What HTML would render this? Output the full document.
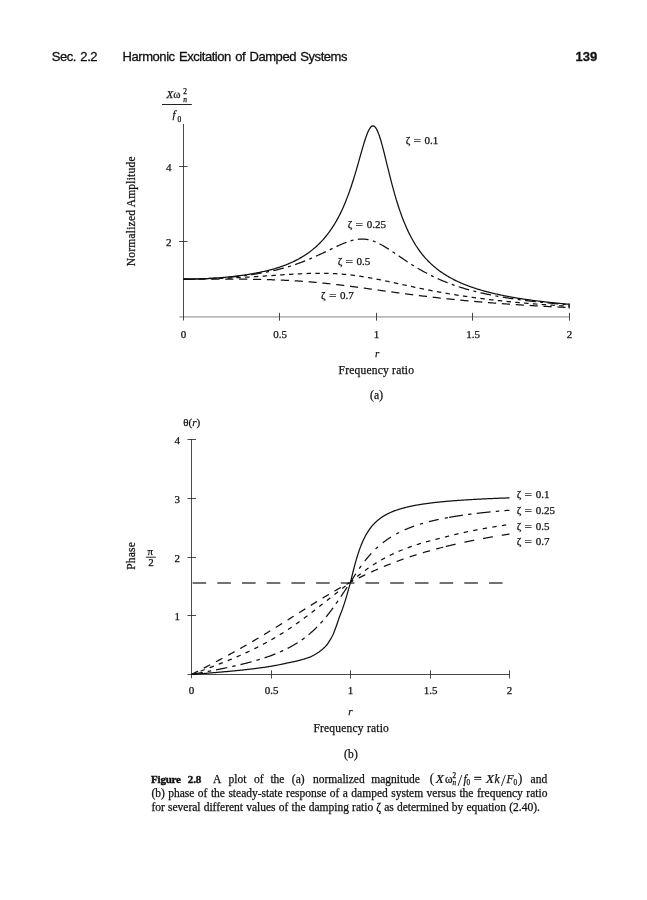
<!DOCTYPE html>
<html><head><meta charset="utf-8"><title>Figure 2.8</title>
<style>
html,body{margin:0;padding:0;background:#fff;}
body{width:647px;height:900px;position:relative;overflow:hidden;font-family:"Liberation Serif",serif;color:#111;}
.hd{position:absolute;top:48.7px;-webkit-text-stroke:0.3px #111;font-family:"Liberation Sans",sans-serif;font-size:13px;line-height:16px;white-space:nowrap;color:#111;letter-spacing:-0.45px;word-spacing:1.2px;}
.cap{position:absolute;left:151.4px;width:396.5px;font-size:11.5px;line-height:14px;-webkit-text-stroke:0.25px #111;white-space:nowrap;text-align:justify;text-align-last:justify;color:#111;}
svg{position:absolute;left:0;top:0;}
svg text{font-family:"Liberation Serif",serif;fill:#111;stroke:#111;stroke-width:0.25px;}
.cp{font-size:11.5px;} .t11{font-size:11px;} .t12{font-size:11.5px;letter-spacing:0.21px;}
.it{font-style:italic;}
.c{fill:none;stroke:#111;stroke-width:1.25;stroke-linejoin:round;}
.ax{stroke:#2a2a2a;stroke-width:0.85;fill:none;}
</style></head><body>
<div class="hd" style="left:51.8px;">Sec. 2.2</div>
<div class="hd" style="left:122.6px;">Harmonic Excitation of Damped Systems</div>
<div class="hd" style="left:575.6px;font-weight:bold;letter-spacing:0;">139</div>
<svg width="647" height="900" viewBox="0 0 647 900">

<line x1="179.2" y1="316.8" x2="569.5" y2="316.8" stroke="#b9b9b9" stroke-width="1.8"/>
<line class="ax" x1="183.5" y1="123.9" x2="183.5" y2="320.5"/>
<line class="ax" x1="179" y1="241.5" x2="187.7" y2="241.5"/>
<text class="t11" x="168.7" y="245.7" text-anchor="middle">2</text>
<line class="ax" x1="179" y1="166.5" x2="187.7" y2="166.5"/>
<text class="t11" x="168.7" y="170.7" text-anchor="middle">4</text>
<line class="ax" x1="279.5" y1="312.8" x2="279.5" y2="320.7"/>
<line class="ax" x1="376.5" y1="312.8" x2="376.5" y2="320.7"/>
<line class="ax" x1="472.5" y1="312.8" x2="472.5" y2="320.7"/>
<line class="ax" x1="569.5" y1="312.8" x2="569.5" y2="320.7"/>
<text class="t11" x="183.5" y="338" text-anchor="middle">0</text>
<text class="t11" x="280.0" y="338" text-anchor="middle">0.5</text>
<text class="t11" x="376.5" y="338" text-anchor="middle">1</text>
<text class="t11" x="473.0" y="338" text-anchor="middle">1.5</text>
<text class="t11" x="569.5" y="338" text-anchor="middle">2</text>
<path class="c" d="M183.50,279.10 L184.47,279.10 L185.43,279.10 L186.40,279.09 L187.36,279.09 L188.32,279.08 L189.29,279.07 L190.25,279.05 L191.22,279.04 L192.19,279.03 L193.15,279.01 L194.12,278.99 L195.08,278.97 L196.04,278.94 L197.01,278.92 L197.97,278.89 L198.94,278.86 L199.91,278.83 L200.87,278.80 L201.84,278.76 L202.80,278.73 L203.76,278.69 L204.73,278.65 L205.69,278.61 L206.66,278.56 L207.62,278.52 L208.59,278.47 L209.56,278.42 L210.52,278.36 L211.49,278.31 L212.45,278.25 L213.41,278.19 L214.38,278.13 L215.34,278.07 L216.31,278.00 L217.28,277.94 L218.24,277.87 L219.20,277.80 L220.17,277.72 L221.13,277.65 L222.10,277.57 L223.06,277.49 L224.03,277.40 L225.00,277.32 L225.96,277.23 L226.93,277.14 L227.89,277.05 L228.85,276.95 L229.82,276.85 L230.78,276.75 L231.75,276.65 L232.72,276.54 L233.68,276.44 L234.65,276.32 L235.61,276.21 L236.57,276.09 L237.54,275.98 L238.50,275.85 L239.47,275.73 L240.44,275.60 L241.40,275.47 L242.37,275.34 L243.33,275.20 L244.30,275.06 L245.26,274.91 L246.22,274.77 L247.19,274.62 L248.16,274.46 L249.12,274.31 L250.08,274.15 L251.05,273.98 L252.01,273.82 L252.98,273.65 L253.94,273.47 L254.91,273.29 L255.88,273.11 L256.84,272.92 L257.81,272.73 L258.77,272.54 L259.74,272.34 L260.70,272.14 L261.67,271.93 L262.63,271.72 L263.60,271.50 L264.56,271.28 L265.52,271.05 L266.49,270.82 L267.45,270.58 L268.42,270.34 L269.38,270.10 L270.35,269.84 L271.31,269.59 L272.28,269.32 L273.25,269.05 L274.21,268.78 L275.18,268.50 L276.14,268.21 L277.11,267.92 L278.07,267.62 L279.03,267.31 L280.00,267.00 L280.93,266.68 L281.87,266.35 L282.80,266.01 L283.73,265.67 L284.66,265.32 L285.60,264.96 L286.53,264.59 L287.46,264.22 L288.40,263.83 L289.33,263.44 L290.26,263.04 L291.20,262.62 L292.13,262.20 L293.06,261.77 L294.00,261.32 L294.93,260.87 L295.86,260.40 L296.79,259.93 L297.73,259.44 L298.66,258.94 L299.59,258.42 L300.53,257.90 L301.46,257.36 L302.39,256.80 L303.32,256.23 L304.26,255.65 L305.19,255.05 L306.12,254.43 L307.06,253.80 L307.99,253.15 L308.92,252.48 L309.86,251.80 L310.79,251.09 L311.72,250.37 L312.65,249.62 L313.59,248.85 L314.52,248.07 L315.45,247.25 L316.39,246.42 L317.32,245.55 L318.25,244.67 L319.19,243.75 L320.12,242.81 L321.05,241.84 L321.98,240.84 L322.92,239.80 L323.85,238.73 L324.78,237.63 L325.72,236.49 L326.65,235.32 L327.62,234.10 L328.58,232.85 L329.54,231.55 L330.51,230.21 L331.48,228.82 L332.44,227.38 L333.40,225.89 L334.37,224.35 L335.33,222.75 L336.30,221.10 L337.26,219.39 L338.23,217.61 L339.19,215.77 L340.16,213.86 L341.12,211.88 L342.09,209.83 L343.05,207.71 L344.02,205.50 L344.99,203.22 L345.95,200.85 L346.91,198.39 L347.88,195.85 L348.84,193.22 L349.81,190.50 L350.77,187.69 L351.74,184.79 L352.70,181.81 L353.67,178.74 L354.63,175.58 L355.60,172.36 L356.56,169.06 L357.53,165.71 L358.50,162.32 L359.46,158.90 L360.42,155.47 L361.39,152.07 L362.36,148.70 L363.32,145.42 L364.28,142.25 L365.25,139.23 L366.21,136.41 L367.18,133.83 L368.14,131.54 L369.11,129.59 L370.07,128.01 L371.04,126.84 L372.00,126.12 L372.97,125.86 L373.93,126.09 L374.90,126.80 L375.86,127.99 L376.83,129.62 L377.79,131.69 L378.76,134.14 L379.72,136.94 L380.69,140.04 L381.65,143.39 L382.62,146.95 L383.58,150.66 L384.55,154.49 L385.51,158.39 L386.48,162.33 L387.44,166.28 L388.41,170.21 L389.38,174.10 L390.34,177.93 L391.30,181.69 L392.27,185.36 L393.24,188.94 L394.20,192.42 L395.16,195.80 L396.13,199.07 L397.09,202.23 L398.06,205.29 L399.02,208.24 L399.99,211.08 L400.95,213.82 L401.92,216.46 L402.88,219.01 L403.85,221.46 L404.81,223.82 L405.78,226.09 L406.75,228.28 L407.71,230.38 L408.67,232.41 L409.64,234.37 L410.61,236.25 L411.57,238.07 L412.53,239.82 L413.50,241.51 L414.47,243.14 L415.43,244.71 L416.39,246.23 L417.36,247.69 L418.32,249.11 L419.29,250.48 L420.25,251.80 L421.22,253.08 L422.19,254.32 L423.15,255.52 L424.14,256.68 L425.13,257.80 L426.11,258.89 L427.10,259.94 L428.09,260.97 L429.08,261.96 L430.06,262.92 L431.05,263.86 L432.04,264.76 L433.03,265.64 L434.02,266.50 L435.00,267.33 L435.99,268.14 L436.98,268.93 L437.97,269.69 L438.96,270.44 L439.94,271.16 L440.93,271.87 L441.92,272.55 L442.91,273.22 L443.89,273.88 L444.88,274.51 L445.87,275.13 L446.86,275.74 L447.85,276.33 L448.83,276.90 L449.82,277.46 L450.81,278.01 L451.80,278.55 L452.79,279.07 L453.77,279.58 L454.76,280.08 L455.75,280.57 L456.74,281.05 L457.73,281.51 L458.71,281.97 L459.70,282.41 L460.69,282.85 L461.68,283.28 L462.66,283.70 L463.65,284.11 L464.64,284.51 L465.63,284.90 L466.62,285.28 L467.60,285.66 L468.59,286.03 L469.58,286.39 L470.57,286.75 L471.56,287.09 L472.54,287.43 L473.53,287.77 L474.52,288.10 L475.51,288.42 L476.49,288.73 L477.48,289.04 L478.47,289.35 L479.46,289.65 L480.45,289.94 L481.43,290.23 L482.42,290.51 L483.41,290.79 L484.40,291.06 L485.38,291.33 L486.37,291.59 L487.36,291.85 L488.35,292.10 L489.34,292.35 L490.32,292.60 L491.31,292.84 L492.30,293.08 L493.26,293.31 L494.23,293.54 L495.19,293.77 L496.16,293.99 L497.12,294.21 L498.09,294.43 L499.06,294.64 L500.02,294.85 L500.99,295.05 L501.95,295.25 L502.92,295.45 L503.88,295.65 L504.85,295.84 L505.81,296.03 L506.78,296.22 L507.74,296.40 L508.70,296.58 L509.67,296.76 L510.63,296.94 L511.60,297.11 L512.57,297.29 L513.53,297.45 L514.50,297.62 L515.46,297.78 L516.42,297.95 L517.39,298.11 L518.36,298.26 L519.32,298.42 L520.29,298.57 L521.25,298.72 L522.21,298.87 L523.18,299.02 L524.14,299.16 L525.11,299.30 L526.08,299.45 L527.04,299.58 L528.00,299.72 L528.97,299.86 L529.93,299.99 L530.90,300.12 L531.87,300.25 L532.83,300.38 L533.80,300.51 L534.76,300.63 L535.72,300.76 L536.69,300.88 L537.65,301.00 L538.62,301.12 L539.59,301.24 L540.55,301.35 L541.51,301.47 L542.48,301.58 L543.44,301.69 L544.41,301.80 L545.38,301.91 L546.34,302.02 L547.31,302.13 L548.27,302.23 L549.24,302.34 L550.20,302.44 L551.16,302.54 L552.13,302.64 L553.10,302.74 L554.06,302.84 L555.03,302.94 L555.99,303.04 L556.95,303.13 L557.92,303.22 L558.88,303.32 L559.85,303.41 L560.82,303.50 L561.78,303.59 L562.75,303.68 L563.71,303.77 L564.67,303.85 L565.64,303.94 L566.61,304.02 L567.57,304.11 L568.54,304.19 L569.50,304.27"/>
<path class="c" stroke-dasharray="10.8 4.4 3 4.4" d="M183.50,279.10 L184.47,279.10 L185.43,279.10 L186.40,279.09 L187.36,279.09 L188.32,279.08 L189.29,279.07 L190.25,279.06 L191.22,279.05 L192.19,279.03 L193.15,279.02 L194.12,279.00 L195.08,278.98 L196.04,278.96 L197.01,278.94 L197.97,278.91 L198.94,278.89 L199.91,278.86 L200.87,278.83 L201.84,278.80 L202.80,278.77 L203.76,278.73 L204.73,278.70 L205.69,278.66 L206.66,278.62 L207.62,278.58 L208.59,278.54 L209.56,278.49 L210.52,278.45 L211.49,278.40 L212.45,278.35 L213.41,278.30 L214.38,278.24 L215.34,278.19 L216.31,278.13 L217.28,278.07 L218.24,278.01 L219.20,277.94 L220.17,277.88 L221.13,277.81 L222.10,277.74 L223.06,277.67 L224.03,277.60 L225.00,277.53 L225.96,277.45 L226.93,277.37 L227.89,277.29 L228.85,277.21 L229.82,277.12 L230.78,277.03 L231.75,276.95 L232.72,276.85 L233.68,276.76 L234.65,276.66 L235.61,276.57 L236.57,276.47 L237.54,276.36 L238.50,276.26 L239.47,276.15 L240.44,276.04 L241.40,275.93 L242.37,275.82 L243.33,275.70 L244.30,275.58 L245.26,275.46 L246.22,275.34 L247.19,275.21 L248.16,275.08 L249.12,274.95 L250.08,274.82 L251.05,274.68 L252.01,274.54 L252.98,274.40 L253.94,274.25 L254.91,274.10 L255.88,273.95 L256.84,273.80 L257.81,273.64 L258.77,273.48 L259.74,273.32 L260.70,273.16 L261.67,272.99 L262.63,272.82 L263.60,272.64 L264.56,272.46 L265.52,272.28 L266.49,272.10 L267.45,271.91 L268.42,271.72 L269.38,271.52 L270.35,271.32 L271.27,271.12 L272.20,270.92 L273.12,270.71 L274.05,270.50 L274.98,270.28 L275.90,270.06 L276.83,269.83 L277.75,269.61 L278.67,269.38 L279.60,269.14 L280.53,268.90 L281.45,268.66 L282.38,268.41 L283.30,268.16 L284.22,267.90 L285.15,267.64 L286.07,267.37 L287.00,267.10 L287.93,266.83 L288.85,266.55 L289.78,266.27 L290.70,265.98 L291.62,265.69 L292.55,265.39 L293.48,265.09 L294.40,264.78 L295.32,264.47 L296.25,264.15 L297.17,263.83 L298.10,263.50 L299.02,263.17 L299.95,262.84 L300.88,262.49 L301.80,262.15 L302.73,261.80 L303.65,261.44 L304.57,261.08 L305.50,260.71 L306.43,260.34 L307.35,259.96 L308.28,259.58 L309.20,259.19 L310.12,258.80 L311.05,258.40 L311.97,258.00 L312.90,257.59 L313.83,257.18 L314.75,256.76 L315.68,256.34 L316.60,255.91 L317.56,255.48 L318.53,255.05 L319.50,254.61 L320.46,254.17 L321.42,253.72 L322.39,253.27 L323.36,252.82 L324.32,252.36 L325.28,251.91 L326.25,251.45 L327.22,250.99 L328.18,250.52 L329.14,250.06 L330.11,249.60 L331.08,249.13 L332.04,248.67 L333.00,248.20 L333.97,247.74 L334.94,247.29 L335.90,246.83 L336.87,246.38 L337.83,245.93 L338.79,245.49 L339.76,245.05 L340.73,244.63 L341.69,244.21 L342.65,243.79 L343.62,243.39 L344.59,243.00 L345.55,242.62 L346.51,242.26 L347.48,241.90 L348.44,241.57 L349.41,241.25 L350.38,240.94 L351.34,240.66 L352.31,240.39 L353.27,240.15 L354.24,239.92 L355.20,239.72 L356.16,239.55 L357.13,239.40 L358.10,239.27 L359.06,239.17 L360.02,239.10 L360.99,239.05 L361.96,239.03 L362.92,239.05 L363.88,239.09 L364.85,239.16 L365.81,239.26 L366.78,239.39 L367.75,239.55 L368.71,239.74 L369.67,239.96 L370.64,240.21 L371.61,240.49 L372.57,240.80 L373.53,241.14 L374.50,241.50 L375.46,241.89 L376.43,242.30 L377.39,242.74 L378.36,243.20 L379.32,243.69 L380.29,244.20 L381.25,244.72 L382.22,245.27 L383.18,245.83 L384.15,246.41 L385.16,247.00 L386.16,247.61 L387.16,248.23 L388.17,248.86 L389.18,249.51 L390.18,250.16 L391.18,250.82 L392.19,251.48 L393.20,252.16 L394.20,252.83 L395.20,253.51 L396.21,254.20 L397.21,254.88 L398.22,255.57 L399.23,256.26 L400.23,256.94 L401.24,257.63 L402.24,258.31 L403.25,258.99 L404.25,259.67 L405.25,260.34 L406.26,261.01 L407.27,261.67 L408.27,262.33 L409.27,262.99 L410.28,263.64 L411.29,264.28 L412.29,264.91 L413.30,265.54 L414.30,266.17 L415.31,266.78 L416.31,267.39 L417.31,267.99 L418.32,268.58 L419.32,269.17 L420.33,269.75 L421.34,270.32 L422.34,270.88 L423.35,271.44 L424.35,271.98 L425.35,272.52 L426.36,273.05 L427.37,273.58 L428.37,274.10 L429.38,274.60 L430.38,275.11 L431.38,275.60 L432.39,276.09 L433.39,276.56 L434.40,277.04 L435.37,277.50 L436.33,277.96 L437.29,278.41 L438.26,278.85 L439.23,279.28 L440.19,279.71 L441.15,280.14 L442.12,280.55 L443.08,280.96 L444.05,281.36 L445.01,281.76 L445.98,282.15 L446.94,282.53 L447.91,282.91 L448.88,283.28 L449.84,283.65 L450.81,284.01 L451.77,284.36 L452.74,284.71 L453.70,285.05 L454.67,285.39 L455.63,285.72 L456.60,286.05 L457.56,286.37 L458.53,286.69 L459.49,287.00 L460.45,287.31 L461.42,287.61 L462.38,287.91 L463.35,288.20 L464.31,288.49 L465.28,288.78 L466.25,289.06 L467.21,289.33 L468.18,289.61 L469.14,289.87 L470.11,290.14 L471.07,290.40 L472.04,290.65 L473.00,290.91 L473.96,291.16 L474.93,291.40 L475.89,291.64 L476.86,291.88 L477.82,292.11 L478.79,292.34 L479.75,292.57 L480.72,292.80 L481.69,293.02 L482.65,293.23 L483.62,293.45 L484.58,293.66 L485.55,293.87 L486.51,294.08 L487.47,294.28 L488.44,294.48 L489.40,294.68 L490.37,294.87 L491.33,295.06 L492.30,295.25 L493.26,295.44 L494.23,295.62 L495.19,295.81 L496.16,295.99 L497.12,296.16 L498.09,296.34 L499.06,296.51 L500.02,296.68 L500.99,296.85 L501.95,297.01 L502.92,297.18 L503.88,297.34 L504.85,297.50 L505.81,297.65 L506.78,297.81 L507.74,297.96 L508.70,298.11 L509.67,298.26 L510.63,298.41 L511.60,298.56 L512.57,298.70 L513.53,298.84 L514.50,298.98 L515.46,299.12 L516.42,299.26 L517.39,299.39 L518.36,299.53 L519.32,299.66 L520.29,299.79 L521.25,299.92 L522.21,300.04 L523.18,300.17 L524.14,300.29 L525.11,300.42 L526.08,300.54 L527.04,300.66 L528.00,300.78 L528.97,300.89 L529.93,301.01 L530.90,301.12 L531.87,301.24 L532.83,301.35 L533.80,301.46 L534.76,301.57 L535.72,301.68 L536.69,301.78 L537.65,301.89 L538.62,301.99 L539.59,302.10 L540.55,302.20 L541.51,302.30 L542.48,302.40 L543.44,302.50 L544.41,302.60 L545.38,302.69 L546.34,302.79 L547.31,302.88 L548.27,302.98 L549.24,303.07 L550.20,303.16 L551.16,303.25 L552.13,303.34 L553.10,303.43 L554.06,303.52 L555.03,303.61 L555.99,303.69 L556.95,303.78 L557.92,303.86 L558.88,303.95 L559.85,304.03 L560.82,304.11 L561.78,304.19 L562.75,304.27 L563.71,304.35 L564.67,304.43 L565.64,304.51 L566.61,304.58 L567.57,304.66 L568.54,304.74 L569.50,304.81"/>
<path class="c" stroke-dasharray="4.5 4.3" d="M183.50,279.10 L184.47,279.10 L185.43,279.10 L186.40,279.10 L187.36,279.09 L188.32,279.09 L189.29,279.08 L190.25,279.08 L191.22,279.07 L192.19,279.06 L193.15,279.05 L194.12,279.04 L195.08,279.03 L196.04,279.02 L197.01,279.01 L197.97,278.99 L198.94,278.98 L199.91,278.96 L200.87,278.95 L201.84,278.93 L202.80,278.91 L203.76,278.89 L204.73,278.87 L205.69,278.85 L206.66,278.83 L207.62,278.81 L208.59,278.78 L209.56,278.76 L210.52,278.73 L211.49,278.71 L212.45,278.68 L213.41,278.65 L214.38,278.62 L215.34,278.59 L216.31,278.56 L217.28,278.53 L218.24,278.50 L219.20,278.46 L220.17,278.43 L221.13,278.39 L222.10,278.36 L223.06,278.32 L224.03,278.28 L225.00,278.24 L225.96,278.20 L226.93,278.16 L227.89,278.12 L228.85,278.08 L229.82,278.04 L230.78,277.99 L231.75,277.95 L232.72,277.90 L233.68,277.86 L234.65,277.81 L235.61,277.76 L236.57,277.71 L237.54,277.66 L238.50,277.61 L239.47,277.56 L240.44,277.51 L241.40,277.46 L242.37,277.41 L243.33,277.35 L244.30,277.30 L245.26,277.24 L246.22,277.19 L247.19,277.13 L248.16,277.07 L249.12,277.02 L250.08,276.96 L251.05,276.90 L252.01,276.84 L252.98,276.78 L253.94,276.72 L254.91,276.66 L255.88,276.60 L256.84,276.54 L257.81,276.48 L258.77,276.41 L259.74,276.35 L260.70,276.29 L261.67,276.22 L262.63,276.16 L263.60,276.09 L264.56,276.03 L265.52,275.96 L266.49,275.90 L267.45,275.83 L268.42,275.77 L269.38,275.70 L270.35,275.64 L271.31,275.57 L272.28,275.51 L273.25,275.44 L274.21,275.38 L275.18,275.31 L276.14,275.25 L277.11,275.18 L278.07,275.12 L279.03,275.05 L280.00,274.99 L280.97,274.92 L281.93,274.86 L282.89,274.80 L283.86,274.73 L284.82,274.67 L285.79,274.61 L286.75,274.55 L287.72,274.49 L288.69,274.43 L289.65,274.37 L290.62,274.31 L291.58,274.26 L292.54,274.20 L293.51,274.14 L294.48,274.09 L295.44,274.04 L296.40,273.99 L297.37,273.94 L298.33,273.89 L299.30,273.84 L300.26,273.79 L301.23,273.75 L302.19,273.71 L303.16,273.66 L304.12,273.63 L305.09,273.59 L306.06,273.55 L307.02,273.52 L307.99,273.49 L308.95,273.46 L309.92,273.43 L310.88,273.40 L311.85,273.38 L312.81,273.36 L313.77,273.34 L314.74,273.32 L315.71,273.31 L316.67,273.30 L317.63,273.29 L318.60,273.29 L319.56,273.28 L320.53,273.28 L321.50,273.29 L322.46,273.29 L323.42,273.30 L324.39,273.31 L325.36,273.33 L326.32,273.35 L327.28,273.37 L328.25,273.40 L329.22,273.42 L330.18,273.46 L331.14,273.49 L332.11,273.53 L333.08,273.57 L334.04,273.62 L335.00,273.67 L335.97,273.72 L336.94,273.78 L337.90,273.84 L338.87,273.90 L339.83,273.97 L340.79,274.04 L341.76,274.12 L342.73,274.20 L343.69,274.28 L344.65,274.37 L345.62,274.46 L346.59,274.55 L347.55,274.65 L348.51,274.75 L349.48,274.86 L350.44,274.96 L351.41,275.08 L352.38,275.19 L353.34,275.31 L354.31,275.43 L355.27,275.56 L356.24,275.69 L357.20,275.82 L358.16,275.96 L359.13,276.10 L360.10,276.24 L361.06,276.39 L362.02,276.54 L362.99,276.69 L363.96,276.85 L364.92,277.00 L365.88,277.16 L366.85,277.33 L367.81,277.49 L368.78,277.66 L369.75,277.83 L370.71,278.01 L371.67,278.19 L372.64,278.36 L373.61,278.54 L374.57,278.73 L375.53,278.91 L376.50,279.10 L377.46,279.29 L378.43,279.48 L379.39,279.67 L380.36,279.87 L381.32,280.06 L382.29,280.26 L383.25,280.46 L384.22,280.66 L385.18,280.86 L386.15,281.06 L387.12,281.26 L388.08,281.47 L389.04,281.67 L390.01,281.88 L390.98,282.08 L391.94,282.29 L392.90,282.50 L393.87,282.71 L394.84,282.92 L395.80,283.12 L396.76,283.33 L397.73,283.54 L398.69,283.75 L399.66,283.96 L400.62,284.17 L401.59,284.38 L402.56,284.59 L403.52,284.80 L404.49,285.01 L405.45,285.22 L406.41,285.43 L407.38,285.64 L408.35,285.84 L409.31,286.05 L410.27,286.26 L411.24,286.46 L412.21,286.67 L413.17,286.87 L414.13,287.08 L415.10,287.28 L416.07,287.48 L417.03,287.69 L418.00,287.89 L418.96,288.09 L419.93,288.29 L420.89,288.49 L421.86,288.68 L422.82,288.88 L423.79,289.07 L424.75,289.27 L425.71,289.46 L426.68,289.66 L427.64,289.85 L428.61,290.04 L429.57,290.23 L430.54,290.41 L431.50,290.60 L432.47,290.79 L433.43,290.97 L434.40,291.15 L435.37,291.33 L436.33,291.51 L437.29,291.69 L438.26,291.87 L439.23,292.05 L440.19,292.23 L441.15,292.40 L442.12,292.57 L443.08,292.74 L444.05,292.91 L445.01,293.08 L445.98,293.25 L446.94,293.42 L447.91,293.58 L448.88,293.75 L449.84,293.91 L450.81,294.07 L451.77,294.23 L452.74,294.39 L453.70,294.55 L454.67,294.71 L455.63,294.86 L456.60,295.02 L457.56,295.17 L458.53,295.32 L459.49,295.47 L460.45,295.62 L461.42,295.77 L462.38,295.91 L463.35,296.06 L464.31,296.20 L465.28,296.34 L466.25,296.49 L467.21,296.63 L468.18,296.77 L469.14,296.90 L470.11,297.04 L471.07,297.18 L472.04,297.31 L473.00,297.44 L473.96,297.58 L474.93,297.71 L475.89,297.84 L476.86,297.96 L477.82,298.09 L478.79,298.22 L479.75,298.34 L480.72,298.47 L481.69,298.59 L482.65,298.71 L483.62,298.83 L484.58,298.95 L485.55,299.07 L486.51,299.19 L487.47,299.31 L488.44,299.42 L489.40,299.54 L490.37,299.65 L491.33,299.76 L492.30,299.87 L493.26,299.98 L494.23,300.09 L495.19,300.20 L496.16,300.31 L497.12,300.42 L498.09,300.52 L499.06,300.63 L500.02,300.73 L500.99,300.83 L501.95,300.94 L502.92,301.04 L503.88,301.14 L504.85,301.24 L505.81,301.34 L506.78,301.43 L507.74,301.53 L508.70,301.63 L509.67,301.72 L510.63,301.82 L511.60,301.91 L512.57,302.00 L513.53,302.09 L514.50,302.18 L515.46,302.27 L516.42,302.36 L517.39,302.45 L518.36,302.54 L519.32,302.63 L520.29,302.71 L521.25,302.80 L522.21,302.88 L523.18,302.97 L524.14,303.05 L525.11,303.13 L526.08,303.22 L527.04,303.30 L528.00,303.38 L528.97,303.46 L529.93,303.54 L530.90,303.62 L531.87,303.69 L532.83,303.77 L533.80,303.85 L534.76,303.92 L535.72,304.00 L536.69,304.07 L537.65,304.15 L538.62,304.22 L539.59,304.29 L540.55,304.36 L541.51,304.44 L542.48,304.51 L543.44,304.58 L544.41,304.65 L545.38,304.72 L546.34,304.78 L547.31,304.85 L548.27,304.92 L549.24,304.99 L550.20,305.05 L551.16,305.12 L552.13,305.18 L553.10,305.25 L554.06,305.31 L555.03,305.38 L555.99,305.44 L556.95,305.50 L557.92,305.56 L558.88,305.63 L559.85,305.69 L560.82,305.75 L561.78,305.81 L562.75,305.87 L563.71,305.93 L564.67,305.99 L565.64,306.04 L566.61,306.10 L567.57,306.16 L568.54,306.22 L569.50,306.27"/>
<path class="c" stroke-dasharray="8.2 5.7" d="M183.50,279.10 L184.47,279.10 L185.43,279.10 L186.40,279.10 L187.36,279.10 L188.32,279.10 L189.29,279.10 L190.25,279.10 L191.22,279.10 L192.19,279.10 L193.15,279.10 L194.12,279.10 L195.08,279.10 L196.04,279.10 L197.01,279.10 L197.97,279.10 L198.94,279.10 L199.91,279.10 L200.87,279.10 L201.84,279.09 L202.80,279.09 L203.76,279.09 L204.73,279.09 L205.69,279.09 L206.66,279.09 L207.62,279.09 L208.59,279.09 L209.56,279.09 L210.52,279.09 L211.49,279.09 L212.45,279.09 L213.41,279.09 L214.38,279.09 L215.34,279.09 L216.31,279.09 L217.28,279.09 L218.24,279.10 L219.20,279.10 L220.17,279.10 L221.13,279.10 L222.10,279.10 L223.06,279.10 L224.03,279.10 L225.00,279.11 L225.96,279.11 L226.93,279.11 L227.89,279.11 L228.85,279.12 L229.82,279.12 L230.78,279.12 L231.75,279.13 L232.72,279.13 L233.68,279.14 L234.65,279.14 L235.61,279.15 L236.57,279.15 L237.54,279.16 L238.50,279.16 L239.47,279.17 L240.44,279.18 L241.40,279.18 L242.37,279.19 L243.33,279.20 L244.30,279.21 L245.26,279.22 L246.22,279.23 L247.19,279.24 L248.16,279.25 L249.12,279.26 L250.08,279.28 L251.05,279.29 L252.01,279.30 L252.98,279.32 L253.94,279.33 L254.91,279.35 L255.88,279.36 L256.84,279.38 L257.81,279.40 L258.77,279.42 L259.74,279.44 L260.70,279.46 L261.67,279.48 L262.63,279.50 L263.60,279.52 L264.56,279.54 L265.52,279.57 L266.49,279.59 L267.45,279.62 L268.42,279.65 L269.38,279.67 L270.35,279.70 L271.31,279.73 L272.28,279.76 L273.25,279.80 L274.21,279.83 L275.18,279.86 L276.14,279.90 L277.11,279.93 L278.07,279.97 L279.03,280.01 L280.00,280.05 L280.97,280.09 L281.93,280.13 L282.89,280.18 L283.86,280.22 L284.82,280.26 L285.79,280.31 L286.75,280.36 L287.72,280.41 L288.69,280.46 L289.65,280.51 L290.62,280.56 L291.58,280.62 L292.54,280.67 L293.51,280.73 L294.48,280.79 L295.44,280.85 L296.40,280.91 L297.37,280.97 L298.33,281.03 L299.30,281.09 L300.26,281.16 L301.23,281.23 L302.19,281.30 L303.16,281.37 L304.12,281.44 L305.09,281.51 L306.06,281.58 L307.02,281.66 L307.99,281.74 L308.95,281.81 L309.92,281.89 L310.88,281.97 L311.85,282.06 L312.81,282.14 L313.77,282.22 L314.74,282.31 L315.71,282.40 L316.67,282.48 L317.63,282.57 L318.60,282.67 L319.56,282.76 L320.53,282.85 L321.50,282.95 L322.46,283.04 L323.42,283.14 L324.39,283.24 L325.36,283.34 L326.32,283.44 L327.28,283.54 L328.25,283.65 L329.22,283.75 L330.18,283.86 L331.14,283.96 L332.11,284.07 L333.08,284.18 L334.04,284.29 L335.00,284.40 L335.97,284.51 L336.94,284.62 L337.90,284.74 L338.87,284.85 L339.83,284.97 L340.79,285.09 L341.76,285.20 L342.73,285.32 L343.69,285.44 L344.65,285.56 L345.62,285.68 L346.59,285.81 L347.55,285.93 L348.51,286.05 L349.48,286.18 L350.44,286.30 L351.41,286.43 L352.38,286.55 L353.34,286.68 L354.31,286.81 L355.27,286.93 L356.24,287.06 L357.20,287.19 L358.16,287.32 L359.13,287.45 L360.10,287.58 L361.06,287.71 L362.02,287.84 L362.99,287.98 L363.96,288.11 L364.92,288.24 L365.88,288.37 L366.85,288.50 L367.81,288.64 L368.78,288.77 L369.75,288.90 L370.71,289.04 L371.67,289.17 L372.64,289.31 L373.61,289.44 L374.57,289.57 L375.53,289.71 L376.50,289.84 L377.46,289.98 L378.43,290.11 L379.39,290.25 L380.36,290.38 L381.32,290.51 L382.29,290.65 L383.25,290.78 L384.22,290.92 L385.18,291.05 L386.15,291.18 L387.12,291.32 L388.08,291.45 L389.04,291.58 L390.01,291.72 L390.98,291.85 L391.94,291.98 L392.90,292.11 L393.87,292.25 L394.84,292.38 L395.80,292.51 L396.76,292.64 L397.73,292.77 L398.69,292.90 L399.66,293.03 L400.62,293.16 L401.59,293.29 L402.56,293.42 L403.52,293.55 L404.49,293.67 L405.45,293.80 L406.41,293.93 L407.38,294.05 L408.35,294.18 L409.31,294.31 L410.27,294.43 L411.24,294.56 L412.21,294.68 L413.17,294.80 L414.13,294.93 L415.10,295.05 L416.07,295.17 L417.03,295.29 L418.00,295.41 L418.96,295.53 L419.93,295.65 L420.89,295.77 L421.86,295.89 L422.82,296.01 L423.79,296.13 L424.75,296.24 L425.71,296.36 L426.68,296.48 L427.64,296.59 L428.61,296.71 L429.57,296.82 L430.54,296.93 L431.50,297.05 L432.47,297.16 L433.43,297.27 L434.40,297.38 L435.37,297.49 L436.33,297.60 L437.29,297.71 L438.26,297.82 L439.23,297.93 L440.19,298.04 L441.15,298.14 L442.12,298.25 L443.08,298.35 L444.05,298.46 L445.01,298.56 L445.98,298.67 L446.94,298.77 L447.91,298.87 L448.88,298.97 L449.84,299.07 L450.81,299.17 L451.77,299.27 L452.74,299.37 L453.70,299.47 L454.67,299.57 L455.63,299.67 L456.60,299.76 L457.56,299.86 L458.53,299.96 L459.49,300.05 L460.45,300.14 L461.42,300.24 L462.38,300.33 L463.35,300.42 L464.31,300.52 L465.28,300.61 L466.25,300.70 L467.21,300.79 L468.18,300.88 L469.14,300.97 L470.11,301.05 L471.07,301.14 L472.04,301.23 L473.00,301.31 L473.96,301.40 L474.93,301.49 L475.89,301.57 L476.86,301.65 L477.82,301.74 L478.79,301.82 L479.75,301.90 L480.72,301.99 L481.69,302.07 L482.65,302.15 L483.62,302.23 L484.58,302.31 L485.55,302.39 L486.51,302.47 L487.47,302.54 L488.44,302.62 L489.40,302.70 L490.37,302.77 L491.33,302.85 L492.30,302.93 L493.26,303.00 L494.23,303.07 L495.19,303.15 L496.16,303.22 L497.12,303.29 L498.09,303.37 L499.06,303.44 L500.02,303.51 L500.99,303.58 L501.95,303.65 L502.92,303.72 L503.88,303.79 L504.85,303.86 L505.81,303.93 L506.78,304.00 L507.74,304.06 L508.70,304.13 L509.67,304.20 L510.63,304.26 L511.60,304.33 L512.57,304.39 L513.53,304.46 L514.50,304.52 L515.46,304.59 L516.42,304.65 L517.39,304.71 L518.36,304.77 L519.32,304.84 L520.29,304.90 L521.25,304.96 L522.21,305.02 L523.18,305.08 L524.14,305.14 L525.11,305.20 L526.08,305.26 L527.04,305.32 L528.00,305.38 L528.97,305.43 L529.93,305.49 L530.90,305.55 L531.87,305.60 L532.83,305.66 L533.80,305.72 L534.76,305.77 L535.72,305.83 L536.69,305.88 L537.65,305.94 L538.62,305.99 L539.59,306.04 L540.55,306.10 L541.51,306.15 L542.48,306.20 L543.44,306.26 L544.41,306.31 L545.38,306.36 L546.34,306.41 L547.31,306.46 L548.27,306.51 L549.24,306.56 L550.20,306.61 L551.16,306.66 L552.13,306.71 L553.10,306.76 L554.06,306.81 L555.03,306.85 L555.99,306.90 L556.95,306.95 L557.92,307.00 L558.88,307.04 L559.85,307.09 L560.82,307.14 L561.78,307.18 L562.75,307.23 L563.71,307.27 L564.67,307.32 L565.64,307.36 L566.61,307.41 L567.57,307.45 L568.54,307.49 L569.50,307.54"/>
<path class="c" d="M569.2,303.6 L569.2,308.6"/>
<text class="t11" x="405.7" y="143.9">ζ</text><text class="t11" transform="translate(413.5,143.9) scale(1.2,1)">=</text><text class="t11" x="424.6" y="143.9">0.1</text>
<text class="t11" x="347.8" y="228.1">ζ</text><text class="t11" transform="translate(355.6,228.1) scale(1.2,1)">=</text><text class="t11" x="366.7" y="228.1">0.25</text>
<text class="t11" x="337.7" y="265.3">ζ</text><text class="t11" transform="translate(345.5,265.3) scale(1.2,1)">=</text><text class="t11" x="356.6" y="265.3">0.5</text>
<text class="t11" x="321.1" y="299.2">ζ</text><text class="t11" transform="translate(328.9,299.2) scale(1.2,1)">=</text><text class="t11" x="340.0" y="299.2">0.7</text>
<text class="t12" transform="translate(134.6,266.2) rotate(-90)">Normalized Amplitude</text>
<line x1="162" y1="104.5" x2="191.8" y2="104.5" stroke="#222" stroke-width="1"/>
<text class="t11 it" x="166.5" y="97.6">X<tspan style="font-style:normal">ω</tspan></text>
<text class="it" x="183.3" y="93.8" style="font-size:7.5px;font-style:normal">2</text>
<text class="it" x="183.3" y="102" style="font-size:7.5px">n</text>
<text class="t11 it" x="172.6" y="117.6">f</text>
<text x="177.4" y="121.6" style="font-size:7.5px">0</text>
<text class="t11 it" x="375" y="356.8">r</text>
<text class="t12" x="338.6" y="373.7">Frequency ratio</text>
<text class="t12" x="376.6" y="398.9" text-anchor="middle">(a)</text>
<line class="ax" x1="187.5" y1="674.5" x2="509.5" y2="674.5"/>
<line class="ax" x1="191.5" y1="439" x2="191.5" y2="678.2"/>
<line class="ax" x1="187.5" y1="615.5" x2="196" y2="615.5"/>
<text class="t11" x="177.2" y="619.7" text-anchor="middle">1</text>
<line class="ax" x1="187.5" y1="557.5" x2="196" y2="557.5"/>
<text class="t11" x="177.2" y="561.7" text-anchor="middle">2</text>
<line class="ax" x1="187.5" y1="498.5" x2="196" y2="498.5"/>
<text class="t11" x="177.2" y="502.7" text-anchor="middle">3</text>
<line class="ax" x1="187.5" y1="439.5" x2="196" y2="439.5"/>
<text class="t11" x="177.2" y="443.7" text-anchor="middle">4</text>
<text class="t11" x="191.5" y="693.9" text-anchor="middle">0</text>
<line class="ax" x1="271.5" y1="670.3" x2="271.5" y2="678.5"/>
<text class="t11" x="271.5" y="693.9" text-anchor="middle">0.5</text>
<line class="ax" x1="350.5" y1="670.3" x2="350.5" y2="678.5"/>
<text class="t11" x="350.5" y="693.9" text-anchor="middle">1</text>
<line class="ax" x1="430.5" y1="670.3" x2="430.5" y2="678.5"/>
<text class="t11" x="430.5" y="693.9" text-anchor="middle">1.5</text>
<line class="ax" x1="509.5" y1="670.3" x2="509.5" y2="678.5"/>
<text class="t11" x="509.5" y="693.9" text-anchor="middle">2</text>
<line x1="192.6" y1="582.9" x2="503" y2="582.9" stroke="#444" stroke-width="1.5" stroke-dasharray="13.6 11.1"/>
<path class="c" d="M191.50,674.50 L192.14,674.45 L192.77,674.40 L193.41,674.35 L194.04,674.29 L194.68,674.24 L195.32,674.19 L195.95,674.14 L196.59,674.09 L197.22,674.04 L197.86,673.98 L198.50,673.93 L199.13,673.88 L199.77,673.83 L200.40,673.78 L201.04,673.73 L201.68,673.67 L202.31,673.62 L202.95,673.57 L203.58,673.52 L204.22,673.47 L204.86,673.41 L205.49,673.36 L206.13,673.31 L206.76,673.26 L207.40,673.20 L208.04,673.15 L208.67,673.10 L209.31,673.05 L209.94,672.99 L210.58,672.94 L211.22,672.89 L211.85,672.83 L212.49,672.78 L213.12,672.73 L213.76,672.67 L214.40,672.62 L215.03,672.57 L215.67,672.51 L216.30,672.46 L216.94,672.40 L217.58,672.35 L218.21,672.30 L218.85,672.24 L219.48,672.18 L220.12,672.13 L220.76,672.07 L221.39,672.02 L222.03,671.96 L222.66,671.91 L223.30,671.85 L223.94,671.79 L224.57,671.74 L225.21,671.68 L225.84,671.62 L226.48,671.56 L227.12,671.51 L227.75,671.45 L228.39,671.39 L229.02,671.33 L229.66,671.27 L230.30,671.21 L230.93,671.15 L231.57,671.09 L232.20,671.03 L232.84,670.97 L233.48,670.91 L234.11,670.85 L234.75,670.79 L235.38,670.72 L236.02,670.66 L236.66,670.60 L237.29,670.54 L237.93,670.47 L238.56,670.41 L239.20,670.34 L239.84,670.28 L240.47,670.21 L241.11,670.15 L241.74,670.08 L242.38,670.01 L243.02,669.95 L243.65,669.88 L244.29,669.81 L244.92,669.74 L245.56,669.67 L246.20,669.60 L246.83,669.53 L247.47,669.46 L248.10,669.39 L248.74,669.31 L249.38,669.24 L250.01,669.17 L250.65,669.09 L251.28,669.02 L251.92,668.94 L252.56,668.87 L253.19,668.79 L253.83,668.71 L254.46,668.63 L255.10,668.55 L255.74,668.47 L256.37,668.39 L257.01,668.31 L257.64,668.23 L258.28,668.14 L258.92,668.06 L259.55,667.97 L260.19,667.89 L260.82,667.80 L261.46,667.71 L262.10,667.62 L262.73,667.53 L263.37,667.44 L264.00,667.35 L264.64,667.26 L265.28,667.16 L265.91,667.07 L266.55,666.97 L267.18,666.88 L267.82,666.78 L268.46,666.68 L269.09,666.58 L269.73,666.47 L270.36,666.37 L271.00,666.26 L271.64,666.16 L272.27,666.05 L272.91,665.94 L273.54,665.83 L274.18,665.72 L274.82,665.60 L275.45,665.49 L276.09,665.37 L276.72,665.25 L277.36,665.13 L278.00,665.01 L278.63,664.88 L279.27,664.76 L279.90,664.63 L280.54,664.50 L281.18,664.37 L281.81,664.23 L282.45,664.10 L283.08,663.96 L283.72,663.82 L284.36,663.68 L284.99,663.53 L285.63,663.38 L286.26,663.23 L286.90,663.08 L287.54,662.96 L288.17,662.84 L288.81,662.72 L289.44,662.59 L290.08,662.47 L290.72,662.34 L291.35,662.21 L291.99,662.07 L292.62,661.94 L293.26,661.80 L293.90,661.66 L294.53,661.52 L295.17,661.38 L295.80,661.23 L296.44,661.08 L297.08,660.93 L297.71,660.77 L298.35,660.61 L298.98,660.45 L299.62,660.29 L300.26,660.12 L300.89,659.95 L301.53,659.77 L302.16,659.59 L302.80,659.41 L303.44,659.23 L304.07,659.03 L304.71,658.84 L305.34,658.64 L305.98,658.44 L306.62,658.23 L307.25,658.01 L307.89,657.79 L308.52,657.57 L309.16,657.34 L309.80,657.10 L310.43,656.86 L311.07,656.58 L311.70,656.27 L312.34,655.95 L312.98,655.62 L313.61,655.28 L314.25,654.93 L314.88,654.56 L315.52,654.19 L316.16,653.81 L316.79,653.41 L317.43,653.00 L318.06,652.58 L318.70,652.15 L319.34,651.69 L319.97,651.23 L320.61,650.75 L321.24,650.25 L321.88,649.73 L322.52,649.19 L323.15,648.64 L323.79,648.06 L324.42,647.46 L325.06,646.84 L325.70,646.19 L326.33,645.52 L326.97,644.74 L327.60,643.85 L328.24,642.92 L328.88,641.95 L329.51,640.95 L330.15,639.91 L330.78,638.83 L331.42,637.70 L332.06,636.53 L332.69,635.31 L333.33,633.91 L333.96,632.32 L334.60,630.69 L335.24,629.00 L335.87,627.27 L336.51,625.50 L337.14,623.68 L337.78,621.81 L338.42,619.91 L339.05,617.98 L339.69,616.24 L340.32,614.68 L340.96,613.07 L341.60,611.39 L342.23,609.66 L342.87,607.86 L343.50,606.00 L344.14,604.09 L344.78,602.11 L345.41,600.08 L346.05,597.99 L346.68,595.86 L347.32,593.67 L347.96,591.45 L348.59,589.18 L349.23,586.88 L349.86,584.56 L350.50,582.22 L351.14,579.55 L351.77,576.92 L352.41,574.32 L353.04,571.76 L353.68,569.25 L354.32,566.80 L354.95,564.42 L355.59,562.11 L356.22,559.88 L356.86,557.72 L357.50,555.64 L358.13,553.63 L358.77,551.71 L359.40,549.86 L360.04,548.10 L360.68,546.40 L361.31,544.78 L361.95,543.23 L362.58,541.75 L363.22,540.34 L363.86,538.99 L364.49,537.69 L365.13,536.46 L365.76,535.28 L366.40,534.15 L367.04,533.07 L367.67,532.04 L368.31,531.05 L368.94,530.11 L369.58,529.20 L370.22,528.33 L370.85,527.50 L371.49,526.70 L372.12,525.94 L372.76,525.20 L373.40,524.49 L374.03,523.82 L374.67,523.16 L375.30,522.53 L375.94,521.93 L376.58,521.35 L377.21,520.79 L377.85,520.25 L378.48,519.72 L379.12,519.22 L379.76,518.73 L380.39,518.27 L381.03,517.81 L381.66,517.37 L382.30,516.95 L382.94,516.54 L383.57,516.14 L384.21,515.75 L384.84,515.38 L385.48,515.02 L386.12,514.67 L386.75,514.33 L387.39,514.00 L388.02,513.68 L388.66,513.36 L389.30,513.06 L389.93,512.77 L390.57,512.48 L391.20,512.20 L391.84,511.93 L392.48,511.67 L393.11,511.41 L393.75,511.16 L394.38,510.92 L395.02,510.68 L395.66,510.45 L396.29,510.22 L396.93,510.00 L397.56,509.79 L398.20,509.58 L398.84,509.37 L399.47,509.17 L400.11,508.98 L400.74,508.78 L401.38,508.60 L402.02,508.42 L402.65,508.24 L403.29,508.06 L403.92,507.89 L404.56,507.72 L405.20,507.56 L405.83,507.40 L406.47,507.24 L407.10,507.09 L407.74,506.94 L408.38,506.79 L409.01,506.65 L409.65,506.51 L410.28,506.37 L410.92,506.23 L411.56,506.10 L412.19,505.97 L412.83,505.84 L413.46,505.71 L414.10,505.59 L414.74,505.47 L415.37,505.35 L416.01,505.23 L416.64,505.12 L417.28,505.00 L417.92,504.89 L418.55,504.78 L419.19,504.68 L419.82,504.57 L420.46,504.47 L421.10,504.37 L421.73,504.27 L422.37,504.17 L423.00,504.07 L423.64,503.97 L424.28,503.88 L424.91,503.79 L425.55,503.70 L426.18,503.61 L426.82,503.52 L427.46,503.43 L428.09,503.35 L428.73,503.27 L429.36,503.18 L430.00,503.10 L430.64,503.02 L431.27,502.94 L431.91,502.86 L432.54,502.79 L433.18,502.71 L433.82,502.64 L434.45,502.56 L435.09,502.49 L435.72,502.42 L436.36,502.35 L437.00,502.28 L437.63,502.21 L438.27,502.14 L438.90,502.08 L439.54,502.01 L440.18,501.95 L440.81,501.88 L441.45,501.82 L442.08,501.76 L442.72,501.70 L443.36,501.64 L443.99,501.58 L444.63,501.52 L445.26,501.46 L445.90,501.40 L446.54,501.34 L447.17,501.29 L447.81,501.23 L448.44,501.18 L449.08,501.12 L449.72,501.07 L450.35,501.02 L450.99,500.96 L451.62,500.91 L452.26,500.86 L452.90,500.81 L453.53,500.76 L454.17,500.71 L454.80,500.66 L455.44,500.62 L456.08,500.57 L456.71,500.52 L457.35,500.47 L457.98,500.43 L458.62,500.38 L459.26,500.34 L459.89,500.29 L460.53,500.25 L461.16,500.21 L461.80,500.16 L462.44,500.12 L463.07,500.08 L463.71,500.04 L464.34,500.00 L464.98,499.95 L465.62,499.91 L466.25,499.87 L466.89,499.83 L467.52,499.80 L468.16,499.76 L468.80,499.72 L469.43,499.68 L470.07,499.64 L470.70,499.61 L471.34,499.57 L471.98,499.53 L472.61,499.50 L473.25,499.46 L473.88,499.43 L474.52,499.39 L475.16,499.36 L475.79,499.32 L476.43,499.29 L477.06,499.25 L477.70,499.22 L478.34,499.19 L478.97,499.15 L479.61,499.12 L480.24,499.09 L480.88,499.06 L481.52,499.03 L482.15,498.99 L482.79,498.96 L483.42,498.93 L484.06,498.90 L484.70,498.87 L485.33,498.84 L485.97,498.81 L486.60,498.78 L487.24,498.75 L487.88,498.72 L488.51,498.70 L489.15,498.67 L489.78,498.64 L490.42,498.61 L491.06,498.58 L491.69,498.56 L492.33,498.53 L492.96,498.50 L493.60,498.48 L494.24,498.45 L494.87,498.42 L495.51,498.40 L496.14,498.37 L496.78,498.35 L497.42,498.32 L498.05,498.29 L498.69,498.27 L499.32,498.24 L499.96,498.22 L500.60,498.20 L501.23,498.17 L501.87,498.15 L502.50,498.12 L503.14,498.10 L503.78,498.08 L504.41,498.05 L505.05,498.03 L505.68,498.01 L506.32,497.98 L506.96,497.96 L507.59,497.94 L508.23,497.92 L508.86,497.89 L509.50,497.87"/>
<path class="c" stroke-dasharray="11.5 5 3.5 5" d="M191.50,674.50 L192.14,674.38 L192.77,674.26 L193.41,674.15 L194.04,674.03 L194.68,673.91 L195.32,673.79 L195.95,673.68 L196.59,673.56 L197.22,673.44 L197.86,673.32 L198.50,673.21 L199.13,673.09 L199.77,672.97 L200.40,672.85 L201.04,672.73 L201.68,672.61 L202.31,672.49 L202.95,672.37 L203.58,672.26 L204.22,672.14 L204.86,672.02 L205.49,671.90 L206.13,671.78 L206.76,671.66 L207.40,671.54 L208.04,671.41 L208.67,671.29 L209.31,671.17 L209.94,671.05 L210.58,670.93 L211.22,670.81 L211.85,670.68 L212.49,670.56 L213.12,670.44 L213.76,670.31 L214.40,670.19 L215.03,670.06 L215.67,669.94 L216.30,669.81 L216.94,669.69 L217.58,669.56 L218.21,669.43 L218.85,669.31 L219.48,669.18 L220.12,669.05 L220.76,668.92 L221.39,668.79 L222.03,668.66 L222.66,668.53 L223.30,668.40 L223.94,668.27 L224.57,668.14 L225.21,668.01 L225.84,667.87 L226.48,667.74 L227.12,667.60 L227.75,667.47 L228.39,667.33 L229.02,667.20 L229.66,667.06 L230.30,666.92 L230.93,666.78 L231.57,666.64 L232.20,666.50 L232.84,666.36 L233.48,666.22 L234.11,666.08 L234.75,665.93 L235.38,665.79 L236.02,665.64 L236.66,665.50 L237.29,665.35 L237.93,665.20 L238.56,665.05 L239.20,664.90 L239.84,664.75 L240.47,664.60 L241.11,664.45 L241.74,664.29 L242.38,664.14 L243.02,663.98 L243.65,663.82 L244.29,663.66 L244.92,663.50 L245.56,663.34 L246.20,663.18 L246.83,663.02 L247.47,662.85 L248.10,662.69 L248.74,662.52 L249.38,662.35 L250.01,662.18 L250.65,662.01 L251.28,661.84 L251.92,661.66 L252.56,661.49 L253.19,661.31 L253.83,661.13 L254.46,660.95 L255.10,660.77 L255.74,660.58 L256.37,660.40 L257.01,660.21 L257.64,660.02 L258.28,659.83 L258.92,659.64 L259.55,659.45 L260.19,659.25 L260.82,659.05 L261.46,658.85 L262.10,658.65 L262.73,658.45 L263.37,658.24 L264.00,658.03 L264.64,657.82 L265.28,657.61 L265.91,657.40 L266.55,657.18 L267.18,656.96 L267.82,656.74 L268.46,656.52 L269.09,656.29 L269.73,656.06 L270.36,655.83 L271.00,655.60 L271.64,655.36 L272.27,655.12 L272.91,654.88 L273.54,654.64 L274.18,654.39 L274.82,654.14 L275.45,653.88 L276.09,653.63 L276.72,653.37 L277.36,653.11 L278.00,652.84 L278.63,652.57 L279.27,652.30 L279.90,652.02 L280.54,651.74 L281.18,651.46 L281.81,651.18 L282.45,650.89 L283.08,650.59 L283.72,650.30 L284.36,649.99 L284.99,649.69 L285.63,649.38 L286.26,649.07 L286.90,648.75 L287.54,648.43 L288.17,648.10 L288.81,647.77 L289.44,647.43 L290.08,647.09 L290.72,646.75 L291.35,646.40 L291.99,646.04 L292.62,645.68 L293.26,645.32 L293.90,644.95 L294.53,644.57 L295.17,644.19 L295.80,643.81 L296.44,643.42 L297.08,643.02 L297.71,642.62 L298.35,642.21 L298.98,641.79 L299.62,641.37 L300.26,640.94 L300.89,640.51 L301.53,640.07 L302.16,639.62 L302.80,639.16 L303.44,638.70 L304.07,638.24 L304.71,637.76 L305.34,637.28 L305.98,636.79 L306.62,636.29 L307.25,635.79 L307.89,635.27 L308.52,634.75 L309.16,634.22 L309.80,633.69 L310.43,633.14 L311.07,632.59 L311.70,632.03 L312.34,631.46 L312.98,630.88 L313.61,630.29 L314.25,629.70 L314.88,629.09 L315.52,628.48 L316.16,627.85 L316.79,627.22 L317.43,626.58 L318.06,625.93 L318.70,625.27 L319.34,624.60 L319.97,623.92 L320.61,623.23 L321.24,622.53 L321.88,621.82 L322.52,621.10 L323.15,620.38 L323.79,619.64 L324.42,618.89 L325.06,618.13 L325.70,617.37 L326.33,616.59 L326.97,615.81 L327.60,615.01 L328.24,614.21 L328.88,613.39 L329.51,612.57 L330.15,611.74 L330.78,610.90 L331.42,610.05 L332.06,609.19 L332.69,608.33 L333.33,607.46 L333.96,606.58 L334.60,605.69 L335.24,604.79 L335.87,603.89 L336.51,602.98 L337.14,602.07 L337.78,601.15 L338.42,600.22 L339.05,599.29 L339.69,598.36 L340.32,597.42 L340.96,596.48 L341.60,595.53 L342.23,594.58 L342.87,593.63 L343.50,592.68 L344.14,591.73 L344.78,590.77 L345.41,589.82 L346.05,588.86 L346.68,587.91 L347.32,586.95 L347.96,586.00 L348.59,585.05 L349.23,584.10 L349.86,583.16 L350.50,582.22"/>
<path class="c" stroke-dasharray="10 6.2 3.2 6.2" d="M350.50,582.22 L350.89,581.57 L351.29,580.93 L351.68,580.28 L352.08,579.64 L352.47,579.01 L352.87,578.38 L353.26,577.75 L353.65,577.12 L354.05,576.50 L354.44,575.87 L354.84,575.26 L355.23,574.64 L355.63,574.04 L356.02,573.43 L356.41,572.83 L356.81,572.23 L357.20,571.64 L357.60,571.05 L357.99,570.46 L358.39,569.88 L358.78,569.30 L359.18,568.73 L359.57,568.16 L359.96,567.60 L360.36,567.04 L360.75,566.48 L361.15,565.93 L361.54,565.39 L361.94,564.85 L362.33,564.31 L362.72,563.78 L363.12,563.25 L363.51,562.73 L363.91,562.22 L364.30,561.70 L364.70,561.20 L365.09,560.69 L365.48,560.20 L365.88,559.70 L366.27,559.22 L366.67,558.73 L367.06,558.25 L367.46,557.78 L367.85,557.31 L368.24,556.85 L368.64,556.39 L369.03,555.93 L369.43,555.48 L369.82,555.04 L370.22,554.60 L370.61,554.16 L371.00,553.73 L371.40,553.30 L371.79,552.88 L372.19,552.46 L372.58,552.05 L372.98,551.64 L373.37,551.23 L373.76,550.83 L374.16,550.44 L374.55,550.05 L374.95,549.66 L375.34,549.28 L375.74,548.90 L376.13,548.52 L376.53,548.15 L376.92,547.79 L377.31,547.42 L377.71,547.07 L378.10,546.71 L378.50,546.36 L378.89,546.01 L379.29,545.67 L379.68,545.33 L380.07,545.00 L380.47,544.66 L380.86,544.34 L381.26,544.01 L381.65,543.69 L382.05,543.37 L382.44,543.06 L382.83,542.75 L383.23,542.44 L383.62,542.14 L384.02,541.84 L384.41,541.54 L384.81,541.25 L385.20,540.96 L385.59,540.67 L385.99,540.39 L386.38,540.11 L386.78,539.83 L387.17,539.55 L387.57,539.28 L387.96,539.01 L388.35,538.75 L388.75,538.48 L389.14,538.22 L389.54,537.96 L389.93,537.71 L390.33,537.46 L390.72,537.21 L391.11,536.96 L391.51,536.72 L391.90,536.48 L392.30,536.24 L392.69,536.00 L393.09,535.77 L393.48,535.53 L393.88,535.31 L394.27,535.08 L394.66,534.85 L395.06,534.63 L395.45,534.41 L395.85,534.19 L396.24,533.98 L396.64,533.77 L397.03,533.56 L397.42,533.35 L397.82,533.14 L398.21,532.94 L398.61,532.73 L399.00,532.53 L399.40,532.33 L399.79,532.14 L400.18,531.94 L400.58,531.75 L400.97,531.56 L401.37,531.37 L401.76,531.18 L402.16,531.00 L402.55,530.82 L402.94,530.63 L403.34,530.46 L403.73,530.28 L404.13,530.10 L404.52,529.93 L404.92,529.75 L405.31,529.58 L405.70,529.41 L406.10,529.25 L406.49,529.08 L406.89,528.91 L407.28,528.75 L407.68,528.59 L408.07,528.43 L408.47,528.27 L408.86,528.11 L409.25,527.96 L409.65,527.80 L410.04,527.65 L410.44,527.50 L410.83,527.35 L411.23,527.20 L411.62,527.05 L412.01,526.91 L412.41,526.76 L412.80,526.62 L413.20,526.48 L413.59,526.34 L413.99,526.20 L414.38,526.06 L414.77,525.92 L415.17,525.78 L415.56,525.65 L415.96,525.52 L416.35,525.38 L416.75,525.25 L417.14,525.12 L417.53,524.99 L417.93,524.86 L418.32,524.74 L418.72,524.61 L419.11,524.49 L419.51,524.36 L419.90,524.24 L420.29,524.12 L420.69,524.00 L421.08,523.88 L421.48,523.76 L421.87,523.64 L422.27,523.53 L422.66,523.41 L423.05,523.30 L423.45,523.18 L423.84,523.07 L424.24,522.96 L424.63,522.85 L425.03,522.74 L425.42,522.63 L425.82,522.52 L426.21,522.41 L426.60,522.31 L427.00,522.20 L427.39,522.09 L427.79,521.99 L428.18,521.89 L428.58,521.78 L428.97,521.68 L429.36,521.58 L429.76,521.48 L430.15,521.38 L430.55,521.28 L430.94,521.19 L431.34,521.09 L431.73,520.99 L432.12,520.90 L432.52,520.80 L432.91,520.71 L433.31,520.61 L433.70,520.52 L434.10,520.43 L434.49,520.34 L434.88,520.25 L435.28,520.16 L435.67,520.07 L436.07,519.98 L436.46,519.89 L436.86,519.80 L437.25,519.72 L437.64,519.63 L438.04,519.55 L438.43,519.46 L438.83,519.38 L439.22,519.29 L439.62,519.21 L440.01,519.13 L440.40,519.05 L440.80,518.96 L441.19,518.88 L441.59,518.80 L441.98,518.72 L442.38,518.64 L442.77,518.57 L443.17,518.49 L443.56,518.41 L443.95,518.33 L444.35,518.26 L444.74,518.18 L445.14,518.11 L445.53,518.03 L445.93,517.96 L446.32,517.88 L446.71,517.81 L447.11,517.74 L447.50,517.66 L447.90,517.59 L448.29,517.52 L448.69,517.45 L449.08,517.38"/>
<path class="c" stroke-dasharray="14 5.2 3.5 5.2" d="M449.08,517.38 L449.32,517.34 L449.56,517.29 L449.81,517.25 L450.05,517.21 L450.29,517.17 L450.53,517.12 L450.77,517.08 L451.01,517.04 L451.26,517.00 L451.50,516.96 L451.74,516.92 L451.98,516.87 L452.22,516.83 L452.46,516.79 L452.71,516.75 L452.95,516.71 L453.19,516.67 L453.43,516.63 L453.67,516.59 L453.91,516.55 L454.16,516.51 L454.40,516.47 L454.64,516.43 L454.88,516.39 L455.12,516.35 L455.36,516.31 L455.61,516.28 L455.85,516.24 L456.09,516.20 L456.33,516.16 L456.57,516.12 L456.81,516.08 L457.06,516.05 L457.30,516.01 L457.54,515.97 L457.78,515.93 L458.02,515.90 L458.26,515.86 L458.51,515.82 L458.75,515.78 L458.99,515.75 L459.23,515.71 L459.47,515.67 L459.71,515.64 L459.96,515.60 L460.20,515.57 L460.44,515.53 L460.68,515.49 L460.92,515.46 L461.16,515.42 L461.41,515.39 L461.65,515.35 L461.89,515.32 L462.13,515.28 L462.37,515.25 L462.61,515.21 L462.86,515.18 L463.10,515.14 L463.34,515.11 L463.58,515.07 L463.82,515.04 L464.06,515.01 L464.31,514.97 L464.55,514.94 L464.79,514.90 L465.03,514.87 L465.27,514.84 L465.51,514.80 L465.76,514.77 L466.00,514.74 L466.24,514.71 L466.48,514.67 L466.72,514.64 L466.96,514.61 L467.21,514.57 L467.45,514.54 L467.69,514.51 L467.93,514.48 L468.17,514.45 L468.41,514.41 L468.66,514.38 L468.90,514.35 L469.14,514.32 L469.38,514.29 L469.62,514.26 L469.86,514.22 L470.11,514.19 L470.35,514.16 L470.59,514.13 L470.83,514.10 L471.07,514.07 L471.31,514.04 L471.56,514.01 L471.80,513.98 L472.04,513.95 L472.28,513.92 L472.52,513.89 L472.76,513.86 L473.01,513.83 L473.25,513.80 L473.49,513.77 L473.73,513.74 L473.97,513.71 L474.21,513.68 L474.46,513.65 L474.70,513.62 L474.94,513.59 L475.18,513.56 L475.42,513.53 L475.66,513.50 L475.91,513.48 L476.15,513.45 L476.39,513.42 L476.63,513.39 L476.87,513.36 L477.11,513.33 L477.36,513.31 L477.60,513.28 L477.84,513.25 L478.08,513.22 L478.32,513.19 L478.56,513.17 L478.81,513.14 L479.05,513.11 L479.29,513.08 L479.53,513.06 L479.77,513.03 L480.02,513.00 L480.26,512.97 L480.50,512.95 L480.74,512.92 L480.98,512.89 L481.22,512.87 L481.47,512.84 L481.71,512.81 L481.95,512.79 L482.19,512.76 L482.43,512.73 L482.67,512.71 L482.92,512.68 L483.16,512.66 L483.40,512.63 L483.64,512.60 L483.88,512.58 L484.12,512.55 L484.37,512.53 L484.61,512.50 L484.85,512.48 L485.09,512.45 L485.33,512.42 L485.57,512.40 L485.82,512.37 L486.06,512.35 L486.30,512.32 L486.54,512.30 L486.78,512.27 L487.02,512.25 L487.27,512.22 L487.51,512.20 L487.75,512.18 L487.99,512.15 L488.23,512.13 L488.47,512.10 L488.72,512.08 L488.96,512.05 L489.20,512.03 L489.44,512.01 L489.68,511.98 L489.92,511.96 L490.17,511.93 L490.41,511.91 L490.65,511.89 L490.89,511.86 L491.13,511.84 L491.37,511.82 L491.62,511.79 L491.86,511.77 L492.10,511.75 L492.34,511.72 L492.58,511.70 L492.82,511.68 L493.07,511.65 L493.31,511.63 L493.55,511.61 L493.79,511.58 L494.03,511.56 L494.27,511.54 L494.52,511.52 L494.76,511.49 L495.00,511.47 L495.24,511.45 L495.48,511.43 L495.72,511.40 L495.97,511.38 L496.21,511.36 L496.45,511.34 L496.69,511.32 L496.93,511.29 L497.17,511.27 L497.42,511.25 L497.66,511.23 L497.90,511.21 L498.14,511.18 L498.38,511.16 L498.62,511.14 L498.87,511.12 L499.11,511.10 L499.35,511.08 L499.59,511.06 L499.83,511.03 L500.07,511.01 L500.32,510.99 L500.56,510.97 L500.80,510.95 L501.04,510.93 L501.28,510.91 L501.52,510.89 L501.77,510.87 L502.01,510.85 L502.25,510.83 L502.49,510.81 L502.73,510.78 L502.97,510.76 L503.22,510.74 L503.46,510.72 L503.70,510.70 L503.94,510.68 L504.18,510.66 L504.42,510.64 L504.67,510.62 L504.91,510.60 L505.15,510.58 L505.39,510.56 L505.63,510.54 L505.87,510.52 L506.12,510.50 L506.36,510.48 L506.60,510.46 L506.84,510.44 L507.08,510.43 L507.32,510.41 L507.57,510.39 L507.81,510.37 L508.05,510.35 L508.29,510.33 L508.53,510.31 L508.77,510.29 L509.02,510.27 L509.26,510.25 L509.50,510.23"/>
<path class="c" stroke-dasharray="4.4 5.3" d="M191.50,674.50 L192.14,674.26 L192.77,674.03 L193.41,673.79 L194.04,673.56 L194.68,673.32 L195.32,673.09 L195.95,672.85 L196.59,672.62 L197.22,672.38 L197.86,672.15 L198.50,671.91 L199.13,671.68 L199.77,671.44 L200.40,671.20 L201.04,670.97 L201.68,670.73 L202.31,670.49 L202.95,670.26 L203.58,670.02 L204.22,669.78 L204.86,669.54 L205.49,669.30 L206.13,669.06 L206.76,668.83 L207.40,668.59 L208.04,668.35 L208.67,668.11 L209.31,667.86 L209.94,667.62 L210.58,667.38 L211.22,667.14 L211.85,666.90 L212.49,666.65 L213.12,666.41 L213.76,666.17 L214.40,665.92 L215.03,665.68 L215.67,665.43 L216.30,665.19 L216.94,664.94 L217.58,664.69 L218.21,664.44 L218.85,664.19 L219.48,663.94 L220.12,663.69 L220.76,663.44 L221.39,663.19 L222.03,662.94 L222.66,662.69 L223.30,662.43 L223.94,662.18 L224.57,661.92 L225.21,661.67 L225.84,661.41 L226.48,661.15 L227.12,660.89 L227.75,660.63 L228.39,660.37 L229.02,660.11 L229.66,659.85 L230.30,659.59 L230.93,659.32 L231.57,659.06 L232.20,658.79 L232.84,658.52 L233.48,658.26 L234.11,657.99 L234.75,657.72 L235.38,657.44 L236.02,657.17 L236.66,656.90 L237.29,656.62 L237.93,656.35 L238.56,656.07 L239.20,655.79 L239.84,655.51 L240.47,655.23 L241.11,654.95 L241.74,654.67 L242.38,654.38 L243.02,654.09 L243.65,653.81 L244.29,653.52 L244.92,653.23 L245.56,652.94 L246.20,652.64 L246.83,652.35 L247.47,652.06 L248.10,651.76 L248.74,651.46 L249.38,651.16 L250.01,650.86 L250.65,650.56 L251.28,650.25 L251.92,649.94 L252.56,649.64 L253.19,649.33 L253.83,649.02 L254.46,648.70 L255.10,648.39 L255.74,648.07 L256.37,647.76 L257.01,647.44 L257.64,647.12 L258.28,646.79 L258.92,646.47 L259.55,646.14 L260.19,645.82 L260.82,645.49 L261.46,645.16 L262.10,644.82 L262.73,644.49 L263.37,644.15 L264.00,643.81 L264.64,643.47 L265.28,643.13 L265.91,642.78 L266.55,642.44 L267.18,642.09 L267.82,641.74 L268.46,641.38 L269.09,641.03 L269.73,640.67 L270.36,640.32 L271.00,639.95 L271.64,639.59 L272.27,639.23 L272.91,638.86 L273.54,638.49 L274.18,638.12 L274.82,637.75 L275.45,637.37 L276.09,637.00 L276.72,636.62 L277.36,636.24 L278.00,635.85 L278.63,635.47 L279.27,635.08 L279.90,634.69 L280.54,634.30 L281.18,633.90 L281.81,633.50 L282.45,633.11 L283.08,632.70 L283.72,632.30 L284.36,631.90 L284.99,631.49 L285.63,631.08 L286.26,630.67 L286.90,630.25 L287.54,629.84 L288.17,629.42 L288.81,629.00 L289.44,628.57 L290.08,628.15 L290.72,627.72 L291.35,627.29 L291.99,626.86 L292.62,626.43 L293.26,625.99 L293.90,625.55 L294.53,625.11 L295.17,624.67 L295.80,624.23 L296.44,623.78 L297.08,623.33 L297.71,622.88 L298.35,622.43 L298.98,621.97 L299.62,621.52 L300.26,621.06 L300.89,620.60 L301.53,620.14 L302.16,619.67 L302.80,619.21 L303.44,618.74 L304.07,618.27 L304.71,617.80 L305.34,617.33 L305.98,616.85 L306.62,616.37 L307.25,615.90 L307.89,615.42 L308.52,614.94 L309.16,614.45 L309.80,613.97 L310.43,613.48 L311.07,613.00 L311.70,612.51 L312.34,612.02 L312.98,611.53 L313.61,611.04 L314.25,610.54 L314.88,610.05 L315.52,609.55 L316.16,609.05 L316.79,608.56 L317.43,608.06 L318.06,607.56 L318.70,607.06 L319.34,606.56 L319.97,606.06 L320.61,605.55 L321.24,605.05 L321.88,604.55 L322.52,604.04 L323.15,603.54 L323.79,603.03 L324.42,602.53 L325.06,602.02 L325.70,601.51 L326.33,601.01 L326.97,600.50 L327.60,600.00 L328.24,599.49 L328.88,598.98 L329.51,598.48 L330.15,597.97 L330.78,597.46 L331.42,596.96 L332.06,596.45 L332.69,595.95 L333.33,595.45 L333.96,594.94 L334.60,594.44 L335.24,593.94 L335.87,593.43 L336.51,592.93 L337.14,592.43 L337.78,591.93 L338.42,591.44 L339.05,590.94 L339.69,590.44 L340.32,589.95 L340.96,589.45 L341.60,588.96 L342.23,588.47 L342.87,587.98 L343.50,587.49 L344.14,587.00 L344.78,586.52 L345.41,586.03 L346.05,585.55 L346.68,585.07 L347.32,584.59 L347.96,584.11 L348.59,583.63 L349.23,583.16 L349.86,582.69 L350.50,582.22 L351.14,581.66 L351.77,581.10 L352.41,580.55 L353.04,580.01 L353.68,579.47 L354.32,578.93 L354.95,578.39 L355.59,577.86 L356.22,577.34 L356.86,576.82 L357.50,576.30 L358.13,575.78 L358.77,575.28 L359.40,574.77 L360.04,574.27 L360.68,573.77 L361.31,573.28 L361.95,572.79 L362.58,572.31 L363.22,571.83 L363.86,571.35 L364.49,570.88 L365.13,570.42 L365.76,569.95 L366.40,569.50 L367.04,569.04 L367.67,568.59 L368.31,568.15 L368.94,567.71 L369.58,567.27 L370.22,566.84 L370.85,566.41 L371.49,565.99 L372.12,565.57 L372.76,565.15 L373.40,564.74 L374.03,564.33 L374.67,563.93 L375.30,563.53 L375.94,563.13 L376.58,562.74 L377.21,562.36 L377.85,561.97 L378.48,561.59 L379.12,561.22 L379.76,560.84 L380.39,560.48 L381.03,560.11 L381.66,559.75 L382.30,559.40 L382.94,559.04 L383.57,558.69 L384.21,558.35 L384.84,558.00 L385.48,557.67 L386.12,557.33 L386.75,557.00 L387.39,556.67 L388.02,556.35 L388.66,556.02 L389.30,555.71 L389.93,555.39 L390.57,555.08 L391.20,554.77 L391.84,554.47 L392.48,554.16 L393.11,553.87 L393.75,553.57 L394.38,553.28 L395.02,552.99 L395.66,552.70 L396.29,552.42 L396.93,552.14 L397.56,551.86 L398.20,551.58 L398.84,551.31 L399.47,551.04 L400.11,550.77 L400.74,550.51 L401.38,550.25 L402.02,549.99 L402.65,549.74 L403.29,549.48 L403.92,549.23 L404.56,548.98 L405.20,548.74 L405.83,548.49 L406.47,548.25 L407.10,548.01 L407.74,547.78 L408.38,547.54 L409.01,547.31 L409.65,547.08 L410.28,546.86 L410.92,546.63 L411.56,546.41 L412.19,546.19 L412.83,545.97 L413.46,545.76 L414.10,545.54 L414.74,545.33 L415.37,545.12 L416.01,544.91 L416.64,544.71 L417.28,544.51 L417.92,544.30 L418.55,544.10 L419.19,543.91 L419.82,543.71 L420.46,543.52 L421.10,543.32 L421.73,543.13 L422.37,542.95 L423.00,542.76 L423.64,542.57 L424.28,542.39 L424.91,542.21 L425.55,542.03 L426.18,541.85 L426.82,541.67 L427.46,541.50 L428.09,541.33 L428.73,541.15 L429.36,540.98 L430.00,540.82 L430.64,540.65 L431.27,540.48 L431.91,540.32 L432.54,540.16 L433.18,539.99 L433.82,539.83 L434.45,539.68 L435.09,539.52 L435.72,539.36 L436.36,539.21 L437.00,539.06 L437.63,538.91 L438.27,538.76 L438.90,538.61 L439.54,538.46 L440.18,538.31 L440.81,538.17 L441.45,538.02 L442.08,537.84 L442.72,537.67 L443.36,537.50 L443.99,537.33 L444.63,537.15 L445.26,536.99 L445.90,536.82 L446.54,536.65 L447.17,536.48 L447.81,536.32 L448.44,536.16 L449.08,535.99 L449.72,535.83 L450.35,535.67 L450.99,535.51 L451.62,535.36 L452.26,535.20 L452.90,535.04 L453.53,534.89 L454.17,534.73 L454.80,534.58 L455.44,534.43 L456.08,534.28 L456.71,534.13 L457.35,533.98 L457.98,533.83 L458.62,533.69 L459.26,533.54 L459.89,533.40 L460.53,533.25 L461.16,533.11 L461.80,532.97 L462.44,532.83 L463.07,532.69 L463.71,532.55 L464.34,532.41 L464.98,532.27 L465.62,532.13 L466.25,532.00 L466.89,531.86 L467.52,531.73 L468.16,531.60 L468.80,531.47 L469.43,531.33 L470.07,531.20 L470.70,531.07 L471.34,530.95 L471.98,530.82 L472.61,530.69 L473.25,530.56 L473.88,530.44 L474.52,530.31 L475.16,530.19 L475.79,530.07 L476.43,529.94 L477.06,529.82 L477.70,529.70 L478.34,529.58 L478.97,529.46 L479.61,529.34 L480.24,529.22 L480.88,529.11 L481.52,528.99 L482.15,528.87 L482.79,528.76 L483.42,528.64 L484.06,528.53 L484.70,528.42 L485.33,528.30 L485.97,528.19 L486.60,528.08 L487.24,527.97 L487.88,527.86 L488.51,527.75 L489.15,527.64 L489.78,527.53 L490.42,527.43 L491.06,527.32 L491.69,527.21 L492.33,527.11 L492.96,527.00 L493.60,526.90 L494.24,526.80 L494.87,526.69 L495.51,526.59 L496.14,526.49 L496.78,526.39 L497.42,526.29 L498.05,526.19 L498.69,526.09 L499.32,525.99 L499.96,525.89 L500.60,525.79 L501.23,525.69 L501.87,525.60 L502.50,525.50 L503.14,525.41 L503.78,525.31 L504.41,525.22 L505.05,525.12 L505.68,525.03 L506.32,524.93 L506.96,524.84 L507.59,524.75 L508.23,524.66 L508.86,524.57 L509.50,524.48"/>
<path class="c" stroke-dasharray="7.3 6.5" d="M191.50,674.50 L192.52,673.97 L193.54,673.45 L194.55,672.92 L195.57,672.39 L196.59,671.87 L197.61,671.34 L198.62,670.81 L199.64,670.28 L200.66,669.76 L201.68,669.23 L202.69,668.70 L203.71,668.17 L204.73,667.64 L205.75,667.11 L206.76,666.58 L207.78,666.05 L208.80,665.51 L209.82,664.98 L210.83,664.45 L211.85,663.91 L212.87,663.38 L213.89,662.84 L214.90,662.30 L215.92,661.76 L216.94,661.22 L217.96,660.68 L218.98,660.14 L219.99,659.60 L221.01,659.06 L222.03,658.51 L223.05,657.96 L224.06,657.42 L225.08,656.87 L226.10,656.32 L227.12,655.76 L228.13,655.21 L229.15,654.66 L230.17,654.10 L231.19,653.54 L232.20,652.98 L233.22,652.42 L234.24,651.86 L235.26,651.30 L236.27,650.73 L237.29,650.16 L238.31,649.60 L239.33,649.02 L240.34,648.45 L241.36,647.88 L242.38,647.30 L243.40,646.73 L244.42,646.15 L245.43,645.56 L246.45,644.98 L247.47,644.40 L248.49,643.81 L249.50,643.22 L250.52,642.63 L251.54,642.04 L252.56,641.45 L253.57,640.85 L254.59,640.25 L255.61,639.66 L256.63,639.05 L257.64,638.45 L258.66,637.85 L259.68,637.24 L260.70,636.63 L261.71,636.02 L262.73,635.41 L263.75,634.80 L264.77,634.18 L265.78,633.57 L266.80,632.95 L267.82,632.33 L268.84,631.71 L269.86,631.09 L270.87,630.46 L271.89,629.84 L272.91,629.21 L273.93,628.58 L274.94,627.95 L275.96,627.32 L276.98,626.69 L278.00,626.05 L279.01,625.42 L280.03,624.78 L281.05,624.15 L282.07,623.51 L283.08,622.87 L284.10,622.23 L285.12,621.59 L286.14,620.95 L287.15,620.31 L288.17,619.66 L289.19,619.02 L290.21,618.38 L291.22,617.73 L292.24,617.09 L293.26,616.45 L294.28,615.80 L295.30,615.16 L296.31,614.51 L297.33,613.87 L298.35,613.22 L299.37,612.58 L300.38,611.93 L301.40,611.29 L302.42,610.65 L303.44,610.00 L304.45,609.36 L305.47,608.72 L306.49,608.08 L307.51,607.44 L308.52,606.80 L309.54,606.17 L310.56,605.53 L311.58,604.89 L312.59,604.26 L313.61,603.63 L314.63,603.00 L315.65,602.37 L316.66,601.74 L317.68,601.11 L318.70,600.49 L319.72,599.86 L320.74,599.24 L321.75,598.62 L322.77,598.01 L323.79,597.39 L324.81,596.78 L325.82,596.17 L326.84,595.56 L327.86,594.96 L328.88,594.35 L329.89,593.75 L330.91,593.15 L331.93,592.56 L332.95,591.97 L333.96,591.38 L334.98,590.79 L336.00,590.20 L337.02,589.62 L338.03,589.04 L339.05,588.47 L340.07,587.90 L341.09,587.33 L342.10,586.76 L343.12,586.20 L344.14,585.64 L345.16,585.08 L346.18,584.53 L347.19,583.98 L348.21,583.43 L349.23,582.89 L350.25,582.35 L351.26,581.81 L352.28,581.28 L353.30,580.75 L354.32,580.23 L355.33,579.70 L356.35,579.18 L357.37,578.67 L358.39,578.16 L359.40,577.65 L360.42,577.15 L361.44,576.64 L362.46,576.15 L363.47,575.65 L364.49,575.16 L365.51,574.68 L366.53,574.19 L367.54,573.71 L368.56,573.24 L369.58,572.77 L370.60,572.30 L371.62,571.83 L372.63,571.37 L373.65,570.91 L374.67,570.46 L375.69,570.01 L376.70,569.56 L377.72,569.12 L378.74,568.68 L379.76,568.24 L380.77,567.81 L381.79,567.38 L382.81,566.95 L383.83,566.53 L384.84,566.11 L385.86,565.70 L386.88,565.29 L387.90,564.88 L388.91,564.47 L389.93,564.07 L390.95,563.67 L391.97,563.28 L392.98,562.88 L394.00,562.50 L395.02,562.11 L396.04,561.73 L397.06,561.35 L398.07,560.97 L399.09,560.60 L400.11,560.23 L401.13,559.86 L402.14,559.50 L403.16,559.14 L404.18,558.78 L405.20,558.43 L406.21,558.08 L407.23,557.73 L408.25,557.39 L409.27,557.04 L410.28,556.70 L411.30,556.37 L412.32,556.03 L413.34,555.70 L414.35,555.38 L415.37,555.05 L416.39,554.73 L417.41,554.41 L418.42,554.09 L419.44,553.78 L420.46,553.47 L421.48,553.16 L422.50,552.85 L423.51,552.55 L424.53,552.25 L425.55,551.95 L426.57,551.65 L427.58,551.36 L428.60,551.07 L429.62,550.78 L430.64,550.49 L431.65,550.21 L432.67,549.93 L433.69,549.65 L434.71,549.37 L435.72,549.10 L436.74,548.83 L437.76,548.56 L438.78,548.29 L439.79,548.02 L440.81,547.76 L441.83,547.50 L442.85,547.24 L443.86,546.98 L444.88,546.73 L445.90,546.48"/>
<path class="c" stroke-dasharray="10 9" d="M445.90,546.48 L446.15,546.41 L446.41,546.35 L446.66,546.29 L446.92,546.23 L447.17,546.16 L447.43,546.10 L447.68,546.04 L447.94,545.98 L448.19,545.92 L448.44,545.85 L448.70,545.79 L448.95,545.73 L449.21,545.67 L449.46,545.61 L449.72,545.55 L449.97,545.49 L450.22,545.43 L450.48,545.37 L450.73,545.30 L450.99,545.24 L451.24,545.18 L451.50,545.12 L451.75,545.06 L452.01,545.00 L452.26,544.94 L452.51,544.88 L452.77,544.82 L453.02,544.77 L453.28,544.71 L453.53,544.65 L453.79,544.59 L454.04,544.53 L454.30,544.47 L454.55,544.41 L454.80,544.35 L455.06,544.29 L455.31,544.24 L455.57,544.18 L455.82,544.12 L456.08,544.06 L456.33,544.00 L456.58,543.95 L456.84,543.89 L457.09,543.83 L457.35,543.77 L457.60,543.72 L457.86,543.66 L458.11,543.60 L458.37,543.54 L458.62,543.49 L458.87,543.43 L459.13,543.37 L459.38,543.32 L459.64,543.26 L459.89,543.20 L460.15,543.15 L460.40,543.09 L460.66,543.04 L460.91,542.98 L461.16,542.92 L461.42,542.87 L461.67,542.81 L461.93,542.76 L462.18,542.70 L462.44,542.65 L462.69,542.59 L462.94,542.54 L463.20,542.48 L463.45,542.43 L463.71,542.37 L463.96,542.32 L464.22,542.26 L464.47,542.21 L464.73,542.16 L464.98,542.10 L465.23,542.05 L465.49,541.99 L465.74,541.94 L466.00,541.89 L466.25,541.83 L466.51,541.78 L466.76,541.73 L467.02,541.67 L467.27,541.62 L467.52,541.57 L467.78,541.51 L468.03,541.46 L468.29,541.41 L468.54,541.35 L468.80,541.30 L469.05,541.25 L469.30,541.20 L469.56,541.15 L469.81,541.09 L470.07,541.04 L470.32,540.99 L470.58,540.94 L470.83,540.89 L471.09,540.83 L471.34,540.78 L471.59,540.73 L471.85,540.68 L472.10,540.63 L472.36,540.58 L472.61,540.53 L472.87,540.48 L473.12,540.42 L473.38,540.37 L473.63,540.32 L473.88,540.27 L474.14,540.22 L474.39,540.17 L474.65,540.12 L474.90,540.07 L475.16,540.02 L475.41,539.97 L475.66,539.92 L475.92,539.87 L476.17,539.82 L476.43,539.77 L476.68,539.72 L476.94,539.67 L477.19,539.62 L477.45,539.57 L477.70,539.53 L477.95,539.48 L478.21,539.43 L478.46,539.38 L478.72,539.33 L478.97,539.28 L479.23,539.23 L479.48,539.18 L479.74,539.14 L479.99,539.09 L480.24,539.04 L480.50,538.99 L480.75,538.94 L481.01,538.90 L481.26,538.85 L481.52,538.80 L481.77,538.75 L482.02,538.70 L482.28,538.66 L482.53,538.61 L482.79,538.56 L483.04,538.51 L483.30,538.47 L483.55,538.42 L483.81,538.37 L484.06,538.33 L484.31,538.28 L484.57,538.23 L484.82,538.19 L485.08,538.14 L485.33,538.09 L485.59,538.05 L485.84,538.00 L486.10,537.96 L486.35,537.91 L486.60,537.86 L486.86,537.82 L487.11,537.77 L487.37,537.73 L487.62,537.68 L487.88,537.63 L488.13,537.59 L488.38,537.54 L488.64,537.50 L488.89,537.45 L489.15,537.41 L489.40,537.36 L489.66,537.32 L489.91,537.27 L490.17,537.23 L490.42,537.18 L490.67,537.14 L490.93,537.09 L491.18,537.05 L491.44,537.01 L491.69,536.96 L491.95,536.92 L492.20,536.87 L492.46,536.83 L492.71,536.78 L492.96,536.74 L493.22,536.70 L493.47,536.65 L493.73,536.61 L493.98,536.57 L494.24,536.52 L494.49,536.48 L494.74,536.44 L495.00,536.39 L495.25,536.35 L495.51,536.31 L495.76,536.26 L496.02,536.22 L496.27,536.18 L496.53,536.13 L496.78,536.09 L497.03,536.05 L497.29,536.01 L497.54,535.96 L497.80,535.92 L498.05,535.88 L498.31,535.84 L498.56,535.79 L498.82,535.75 L499.07,535.71 L499.32,535.67 L499.58,535.63 L499.83,535.58 L500.09,535.54 L500.34,535.50 L500.60,535.46 L500.85,535.42 L501.10,535.38 L501.36,535.33 L501.61,535.29 L501.87,535.25 L502.12,535.21 L502.38,535.17 L502.63,535.13 L502.89,535.09 L503.14,535.05 L503.39,535.01 L503.65,534.97 L503.90,534.92 L504.16,534.88 L504.41,534.84 L504.67,534.80 L504.92,534.76 L505.18,534.72 L505.43,534.68 L505.68,534.64 L505.94,534.60 L506.19,534.56 L506.45,534.52 L506.70,534.48 L506.96,534.44 L507.21,534.40 L507.46,534.36 L507.72,534.32 L507.97,534.28 L508.23,534.24 L508.48,534.21 L508.74,534.17 L508.99,534.13 L509.25,534.09 L509.50,534.05"/>
<text class="t11" x="516.8" y="497.8">ζ</text><text class="t11" transform="translate(524.6,497.8) scale(1.2,1)">=</text><text class="t11" x="535.7" y="497.8">0.1</text>
<text class="t11" x="516.8" y="513.6">ζ</text><text class="t11" transform="translate(524.6,513.6) scale(1.2,1)">=</text><text class="t11" x="535.7" y="513.6">0.25</text>
<text class="t11" x="516.8" y="529.5">ζ</text><text class="t11" transform="translate(524.6,529.5) scale(1.2,1)">=</text><text class="t11" x="535.7" y="529.5">0.5</text>
<text class="t11" x="516.8" y="545">ζ</text><text class="t11" transform="translate(524.6,545) scale(1.2,1)">=</text><text class="t11" x="535.7" y="545">0.7</text>
<text class="t11" x="183.2" y="426">θ(<tspan class="it">r</tspan>)</text>
<text class="t12" transform="translate(134.6,569.8) rotate(-90)">Phase</text>
<text class="t11" x="150.4" y="554.9" text-anchor="middle">π</text>
<line x1="145.9" y1="557.2" x2="155.9" y2="557.2" stroke="#222" stroke-width="1"/>
<text class="t11" x="151" y="565.7" text-anchor="middle">2</text>
<text class="t11 it" x="348.2" y="715.1">r</text>
<text class="t12" x="313.4" y="732.3">Frequency ratio</text>
<text class="t12" x="351" y="757.7" text-anchor="middle">(b)</text>
<text x="151.1" y="783" style="font-size:11px;font-weight:bold;letter-spacing:-0.22px;stroke-width:0.4px">Figure</text>
<text x="187.8" y="783" style="font-size:11px;font-weight:bold;letter-spacing:-0.15px;stroke-width:0.4px">2.8</text>
<text class="cp" x="212.9" y="783">A</text>
<text class="cp" x="228.5" y="783">plot</text>
<text class="cp" x="254.1" y="783">of</text>
<text class="cp" x="270.4" y="783">the</text>
<text class="cp" x="291.8" y="783">(a)</text>
<text class="cp" x="313.0" y="783">normalized</text>
<text class="cp" x="371.3" y="783">magnitude</text>
<text class="cp" x="530.6" y="783">and</text>
<text x="429.6" y="783.3" style="font-size:15px;stroke-width:0">(</text>
<text x="517.4" y="783.3" style="font-size:15px;stroke-width:0">)</text>
<text class="cp it" transform="translate(435.7,783) scale(1.15,1)">X</text>
<text class="cp" x="445.0" y="783">ω</text>
<text x="452.4" y="777.9" style="font-size:7.2px">2</text>
<text class="it" x="452.4" y="785" style="font-size:7.2px">n</text>
<text x="457.4" y="786" style="font-size:17px;stroke-width:0">/</text>
<text class="cp it" x="463.6" y="783">f</text>
<text x="466.6" y="785" style="font-size:7.2px">0</text>
<text class="cp" transform="translate(473.7,783) scale(1.25,1)">=</text>
<text class="cp it" transform="translate(486.1,783) scale(1.15,1)">X</text>
<text class="cp it" x="494.6" y="783">k</text>
<text x="500.9" y="786" style="font-size:17px;stroke-width:0">/</text>
<text class="cp it" x="506.4" y="783">F</text>
<text x="513.6" y="785" style="font-size:7.2px">0</text>
</svg>
<div class="cap" style="top:786px;width:396px;">(b) phase of the steady-state response of a damped system versus the frequency ratio</div>
<div class="cap" style="top:799.9px;width:388.5px;">for several different values of the damping ratio ζ as determined by equation (2.40).</div>

</body></html>
